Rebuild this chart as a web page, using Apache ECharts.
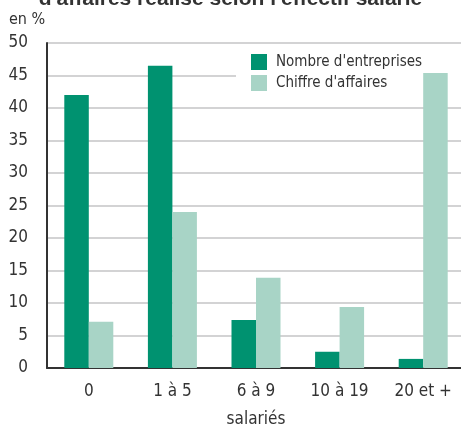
<!DOCTYPE html>
<html>
<head>
<meta charset="utf-8">
<style>
  html, body { margin: 0; padding: 0; background: #fff; }
  #chart { width: 461px; height: 424px; }
</style>
<script src="https://cdn.jsdelivr.net/npm/echarts@6/dist/echarts.min.js"></script>
</head>
<body>
<div id="chart"></div>
<script>
// Répartition des entreprises et du chiffre d'affaires par tranche d'effectif salarié (en %)
const categories = ['0', '1 à 5', '6 à 9', '10 à 19', '20 et +'];
const nombreEntreprises = [42, 46.5, 7.4, 2.5, 1.4];
const chiffreAffaires = [7.1, 24, 13.9, 9.4, 45.4];
const seriesNames = ["Nombre d'entreprises", "Chiffre d'affaires"];
const yTicks = { min: 0, max: 50, interval: 5 };

const FONT = "'Liberation Sans Narrow', 'DejaVu Sans Condensed', 'Liberation Sans', Arial, sans-serif";
const TEXT = '#333333';
const DARK_GREEN = '#009270';
const LIGHT_GREEN = '#a8d4c6';

const chart = echarts.init(document.getElementById('chart'), null, { renderer: 'canvas' });

chart.setOption({
  animation: false,
  backgroundColor: '#ffffff',
  textStyle: { fontFamily: FONT },
  title: [
    {
      text: "d'affaires réalisé selon l'effectif salarié",
      left: 'center',
      top: -11,
      padding: 0,
      textStyle: { fontFamily: "'Liberation Sans', Arial, sans-serif", fontWeight: 'bold', fontSize: 21, color: '#333333' }
    },
    {
      text: 'en %',
      left: 9,
      top: 12,
      padding: 0,
      textStyle: { fontFamily: FONT, fontWeight: 'normal', fontSize: 16, color: TEXT }
    }
  ],
  legend: {
    data: seriesNames,
    orient: 'vertical',
    left: 236,
    top: 46,
    z: 1,
    backgroundColor: '#ffffff',
    padding: [8, 50, 8, 15],
    itemWidth: 16,
    itemHeight: 16,
    itemGap: 5,
    icon: 'rect',
    selectedMode: false,
    textStyle: { fontFamily: FONT, fontSize: 15, color: TEXT, padding: [0, 0, 0, 4] }
  },
  grid: { left: 47, right: -4, top: 43, bottom: 56, containLabel: false, outerBoundsMode: 'none' },
  xAxis: {
    type: 'category',
    data: categories,
    name: 'salariés',
    nameLocation: 'middle',
    nameGap: 43,
    nameTextStyle: { fontFamily: FONT, fontSize: 17, color: TEXT },
    axisLine: { show: true, lineStyle: { color: '#333333', width: 2 } },
    axisTick: { show: false },
    axisLabel: { fontFamily: FONT, fontSize: 17, color: TEXT, margin: 15 }
  },
  yAxis: {
    type: 'value',
    min: yTicks.min,
    max: yTicks.max,
    interval: yTicks.interval,
    axisLine: { show: true, lineStyle: { color: '#333333', width: 2 } },
    axisTick: { show: false },
    axisLabel: { fontFamily: FONT, fontSize: 17, color: TEXT, margin: 19 },
    splitLine: { show: true, lineStyle: { color: '#c4c4c6', width: 1.5 } }
  },
  series: [
    {
      name: seriesNames[0],
      type: 'bar',
      z: 2,
      data: nombreEntreprises,
      barWidth: 24.5,
      barGap: '0%',
      itemStyle: { color: DARK_GREEN }
    },
    {
      name: seriesNames[1],
      type: 'bar',
      z: 2,
      data: chiffreAffaires,
      barWidth: 24.5,
      barGap: '0%',
      itemStyle: { color: LIGHT_GREEN }
    }
  ]
});
</script>
</body>
</html>
